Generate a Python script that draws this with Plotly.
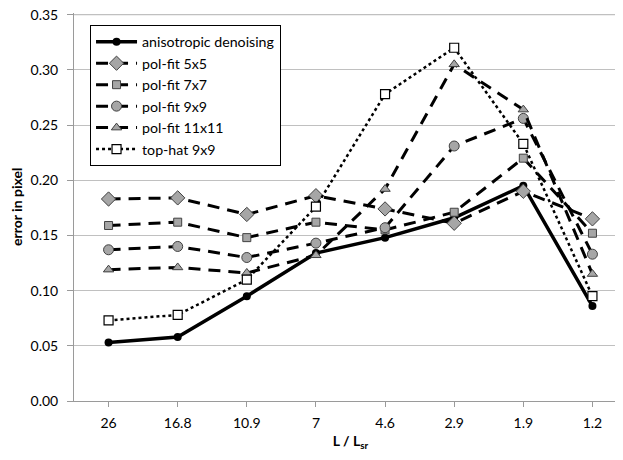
import plotly.graph_objects as go

categories = ["26", "16.8", "10.9", "7", "4.6", "2.9", "1.9", "1.2"]

aniso = [0.053, 0.058, 0.095, 0.134, 0.148, 0.166, 0.195, 0.086]
pf5 = [0.183, 0.184, 0.169, 0.186, 0.174, 0.161, 0.190, 0.165]
pf7 = [0.159, 0.162, 0.148, 0.162, 0.155, 0.171, 0.220, 0.152]
pf9 = [0.137, 0.140, 0.130, 0.143, 0.157, 0.231, 0.256, 0.133]
pf11 = [0.119, 0.121, 0.116, 0.132, 0.192, 0.305, 0.264, 0.115]
tophat = [0.073, 0.078, 0.110, 0.176, 0.278, 0.320, 0.233, 0.095]

y_ticks = [0, 0.05, 0.10, 0.15, 0.20, 0.25, 0.30, 0.35]

GRAY = "#a6a6a6"
EDGE = "#404040"
DASH = "12px,8px"
GRID = "#c0c0c0"

fig = go.Figure()

fig.add_trace(go.Scatter(
    x=categories, y=aniso, name="anisotropic denoising", mode="lines+markers",
    line=dict(color="black", width=3.5),
    marker=dict(symbol="circle", size=8, color="black"),
))
series = [
    ("pol-fit 5x5", pf5, "diamond", 11),
    ("pol-fit 7x7", pf7, "square", 8),
    ("pol-fit 9x9", pf9, "circle", 10),
    ("pol-fit 11x11", pf11, "triangle-up", 9),
]
for name, vals, sym, sz in series:
    fig.add_trace(go.Scatter(
        x=categories, y=vals, name=name, mode="lines+markers",
        line=dict(color="black", width=3, dash=DASH),
        marker=dict(symbol=sym, size=sz, color=GRAY, line=dict(color=EDGE, width=1)),
    ))
fig.add_trace(go.Scatter(
    x=categories, y=tophat, name="top-hat 9x9", mode="lines+markers",
    line=dict(color="black", width=2.5, dash="dot"),
    marker=dict(symbol="square", size=9, color="white", line=dict(color="black", width=1.2)),
))

font = "Lato, 'Open Sans', sans-serif"
fig.update_layout(
    width=623, height=460,
    margin=dict(l=66, r=4, t=5, b=67),
    paper_bgcolor="white", plot_bgcolor="white",
    font=dict(family=font, size=14, color="black"),
    showlegend=True,
    legend=dict(
        x=0.029, y=0.969, xanchor="left", yanchor="top",
        bgcolor="white", bordercolor="black", borderwidth=1,
        font=dict(size=14.2, color="black"),
        tracegroupgap=0, itemwidth=41,
    ),
    xaxis=dict(
        type="category", range=[-0.5, 7.5], automargin=False,
        showgrid=False, showline=True, linecolor="#9a9a9a", linewidth=1,
        ticks="outside", ticklen=5, tickcolor="#9a9a9a",
        ticklabelstandoff=4,
        tickfont=dict(size=14),
        title=dict(text="<b>L / L<sub>sr</sub></b>", font=dict(size=14), standoff=6),
        zeroline=False,
    ),
    yaxis=dict(
        range=[0, 0.3515], tickvals=y_ticks, tickformat=".2f", automargin=False,
        showgrid=True, gridcolor=GRID, gridwidth=1.3,
        showline=True, linecolor="#9a9a9a", linewidth=1,
        ticks="outside", ticklen=6, tickcolor="#9a9a9a",
        ticklabelstandoff=6, ticklabeloverflow="allow",
        tickfont=dict(size=14),
        zeroline=False,
    ),
    shapes=[dict(
        type="line", xref="paper", yref="y", x0=0, x1=1, y0=y_ticks[-1], y1=y_ticks[-1],
        line=dict(color=GRID, width=1.3), layer="below",
    )],
    annotations=[dict(
        text="<b>error in pixel</b>", textangle=-90,
        xref="paper", yref="paper", x=-0.1049, y=0.5,
        xanchor="center", yanchor="middle", showarrow=False,
        font=dict(size=14, color="black"),
    )],
)

fig.write_html("out.html")
